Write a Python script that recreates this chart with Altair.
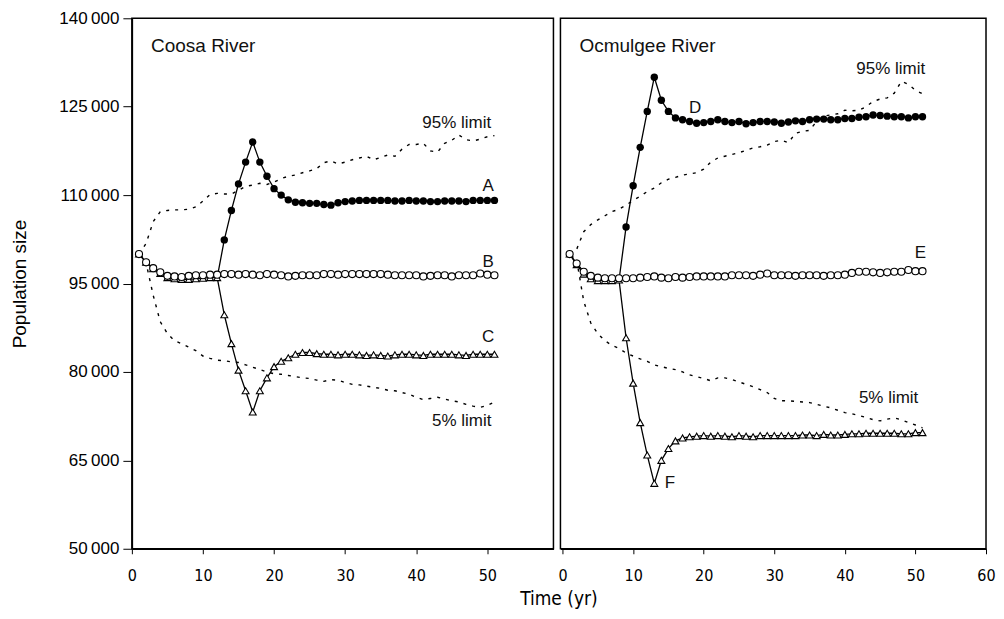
import altair as alt
import pandas as pd

# ---------------- data ----------------
years = list(range(1, 52))

# Coosa River
coosa_A_years = list(range(12, 52))
coosa_A = [96000, 102400, 107400, 111900, 115600, 119000, 115600, 113200, 111100, 110000,
           109200, 108800, 108700, 108600, 108600, 108400, 108300, 108700, 108900, 109000,
           109100, 109100, 109100, 109100, 109100, 109000, 109000, 109100, 109000, 109000,
           108900, 108900, 109000, 109000, 109000, 108900, 109100, 109100, 109100, 109100]
coosa_B = [100000, 98600, 97600, 96900, 96300, 96200, 96100, 96300, 96400, 96400,
           96500, 96500, 96600, 96600, 96500, 96600, 96500, 96400, 96600, 96500,
           96400, 96200, 96300, 96400, 96400, 96400, 96600, 96600, 96500, 96600,
           96600, 96600, 96600, 96600, 96600, 96500, 96400, 96400, 96400, 96400,
           96200, 96300, 96400, 96400, 96200, 96400, 96400, 96400, 96700, 96500,
           96400]
coosa_C = [100000, 98600, 97500, 96700, 96000, 95800, 95700, 95700, 95800, 95900,
           96000, 96000, 89700, 84800, 80300, 76800, 73200, 76800, 79000, 80900,
           81800, 82400, 83000, 83300, 83300, 83100, 83000, 83000, 82900, 83000,
           83000, 82900, 82800, 82900, 82800, 82700, 82900, 83000, 83000, 82900,
           82800, 83000, 83000, 83000, 83000, 82900, 82800, 83000, 83000, 83000,
           83000]
coosa_hi = [100000, 101800, 105500, 107200, 107400, 107500, 107500, 107600, 108000, 109000,
            110100, 110300, 110200, 110200, 110800, 111500, 111700, 112000, 111800, 112200,
            112800, 113200, 113400, 113800, 114100, 114500, 115500, 115800, 115300, 115600,
            116000, 116300, 116600, 116000, 116400, 116800, 116600, 117800, 118600, 118600,
            118800, 117500, 117300, 118800, 119300, 120200, 119400, 119200, 119500, 119900,
            120100]
coosa_lo = [100000, 98500, 93000, 88500, 86500, 85300, 84800, 84200, 83600, 82700,
            82300, 82000, 81900, 81700, 81600, 81200, 80800, 80400, 80000, 79700,
            79600, 79400, 79200, 79000, 78900, 78600, 78400, 78700, 78600, 78200,
            77900, 77800, 77600, 77400, 77200, 76900, 76800, 76500, 76200, 75700,
            75300, 75500, 75700, 75400, 75100, 74900, 74500, 74200, 74000, 74300,
            74900]

# Ocmulgee River
ocm_D_years = list(range(8, 52))
ocm_D = [95600, 104600, 111600, 118100, 124200, 130000, 126100, 124200, 123100, 122800,
         122500, 122200, 122300, 122500, 122800, 122500, 122300, 122500, 122100, 122300,
         122500, 122500, 122400, 122200, 122400, 122600, 122500, 122800, 122900, 122900,
         122800, 122800, 123000, 123000, 123200, 123300, 123600, 123500, 123400, 123300,
         123300, 123100, 123300, 123300]
ocm_E = [100000, 98400, 97000, 96300, 96000, 95900, 95900, 95900, 95900, 95900,
         96000, 96100, 96200, 96000, 95900, 96100, 96000, 96100, 96200, 96200,
         96200, 96200, 96200, 96400, 96400, 96400, 96300, 96500, 96700, 96400,
         96400, 96400, 96300, 96400, 96400, 96400, 96300, 96400, 96400, 96500,
         96800, 97000, 97000, 96900, 96800, 96900, 97000, 97000, 97300, 97100,
         97100]
ocm_F = [100000, 98200, 96600, 95800, 95500, 95500, 95500, 95600, 85800, 78100,
         71400, 65900, 61100, 65000, 67000, 68300, 68800, 69000, 69100, 69200,
         69100, 69200, 69100, 69000, 69200, 69100, 69000, 69200, 69200, 69200,
         69200, 69200, 69200, 69300, 69300, 69200, 69400, 69300, 69300, 69400,
         69500, 69500, 69600, 69600, 69600, 69600, 69600, 69500, 69500, 69700,
         69700]
ocm_hi = [100000, 100800, 103800, 105000, 105800, 106500, 107200, 107600, 108300, 109100,
          109800, 110600, 111200, 112100, 112700, 113000, 113400, 113600, 113800, 114400,
          115600, 116300, 116600, 116900, 117200, 117600, 118000, 118200, 118500, 119100,
          119300, 118900, 120500, 120800, 121000, 122500, 123400, 123600, 123800, 124400,
          124300, 124400, 125000, 125900, 126300, 126500, 127300, 129300, 128800, 127800,
          127200]
ocm_lo = [100000, 99000, 92000, 88300, 86500, 85300, 84500, 84000, 83200, 82700,
          82200, 81800, 81200, 80900, 80600, 80400, 80000, 79500, 79200, 78900,
          78500, 79000, 79000, 78700, 78300, 77900, 77500, 77000, 76500, 75500,
          75100, 75100, 75000, 74900, 74800, 74500, 74200, 73900, 73500, 73100,
          72900, 72600, 72300, 71900, 71700, 72000, 72200, 71900, 71400, 71000,
          70500]

y_ticks = [50000, 65000, 80000, 95000, 110000, 125000, 140000]
x_ticks_left = [0, 10, 20, 30, 40, 50]
x_ticks_right = [0, 10, 20, 30, 40, 50, 60]

# annotation labels: (text, time, value)
coosa_labels = [("95% limit", 45.7, 122200), ("A", 50.1, 111500), ("B", 50.1, 98600),
                ("C", 50.1, 85900), ("5% limit", 46.4, 71700)]
ocm_labels = [("95% limit", 46.5, 131400), ("D", 18.8, 124700), ("E", 50.7, 100200),
              ("5% limit", 46.2, 75600), ("F", 15.2, 61200)]
coosa_title = ("Coosa River", 2.7, 135250)
ocm_title = ("Ocmulgee River", 2.4, 135250)

FONT = "Liberation Sans, Arial, Helvetica, sans-serif"
NARROW = "Liberation Sans Narrow, DejaVu Sans Condensed, Liberation Sans, sans-serif"


def df(ts, vs, name):
    return pd.DataFrame({"t": ts, "v": vs, "s": name})


def panel(x_domain, x_ticks, width, filled, opened, tri, hi, lo, labels, river,
          filled_start, left):
    xs = alt.Scale(domain=x_domain, nice=False, zero=False)
    ys = alt.Scale(domain=[50000, 140000], nice=False, zero=False)
    if left:
        xaxis = alt.Axis(values=x_ticks, title="Time (yr)", titleX=427, titleAlign="center",
                         titleFont=NARROW, titleFontSize=19, titleFontWeight="normal",
                         titlePadding=6)
        yaxis = alt.Axis(values=y_ticks, title="Population size", titleFont=FONT,
                         titleFontSize=19, titleFontWeight="normal", titlePadding=29,
                         labelExpr="replace(format(datum.value, ','), ',', '\u2009')",
                         labelFont=FONT, labelFontSize=17, tickSize=9, labelPadding=4)
        X = alt.X("t:Q", scale=xs, axis=xaxis)
        Y = alt.Y("v:Q", scale=ys, axis=yaxis)
    else:
        xaxis = alt.Axis(values=x_ticks)
        X = alt.X("t:Q", scale=xs, axis=xaxis, title=None)
        Y = alt.Y("v:Q", scale=ys, axis=None)

    limits = pd.concat([df(years, hi, "hi"), df(years, lo, "lo")])
    solid = pd.concat([df(filled[0], filled[1], "f"), df(years, opened, "o"),
                       df(years, tri, "t")])
    fpts = df(filled[0], filled[1], "f")
    fpts = fpts[fpts["t"] >= filled_start]

    dotted = alt.Chart(limits).mark_line(color="black", strokeWidth=1.4,
                                          strokeDash=[3, 6]).encode(X, Y, detail="s:N")
    lines = alt.Chart(solid).mark_line(color="black", strokeWidth=1.3).encode(
        X, Y, detail="s:N")
    opts = alt.Chart(df(years, opened, "o")).mark_point(
        shape="circle", filled=True, fill="white", stroke="black", strokeWidth=1.1,
        size=50, opacity=1).encode(X, Y)
    tpts = alt.Chart(df(years, tri, "t")).mark_point(
        shape="triangle-up", filled=True, fill="white", stroke="black", strokeWidth=1.1,
        size=48, opacity=1).encode(X, Y)
    fp = alt.Chart(fpts).mark_point(shape="circle", filled=True, color="black",
                                    size=55, opacity=1).encode(X, Y)

    lab_df = pd.DataFrame({"label": [l[0] for l in labels], "t": [l[1] for l in labels],
                           "v": [l[2] for l in labels]})
    texts = alt.Chart(lab_df).mark_text(font=FONT, fontSize=17, color="#111",
                                        align="center", baseline="middle").encode(
        X, Y, text="label:N")
    riv_df = pd.DataFrame({"label": [river[0]], "t": [river[1]], "v": [river[2]]})
    rtext = alt.Chart(riv_df).mark_text(font=FONT, fontSize=19, color="#111",
                                        align="left", baseline="middle").encode(
        X, Y, text="label:N")

    return alt.layer(dotted, lines, tpts, opts, fp, texts, rtext).properties(
        width=width, height=531)


left = panel([0, 59.3], x_ticks_left, 422, (coosa_A_years, coosa_A), coosa_B, coosa_C,
             coosa_hi, coosa_lo, coosa_labels, coosa_title, 13, True)
right = panel([-0.3, 60], x_ticks_right, 426, (ocm_D_years, ocm_D), ocm_E, ocm_F,
              ocm_hi, ocm_lo, ocm_labels, ocm_title, 9, False)

chart = alt.hconcat(left, right, spacing=7, bounds="flush").properties(
    padding={"left": 2, "top": 0, "right": 0, "bottom": 0}
).configure_view(stroke="black", strokeWidth=1.5).configure_axis(
    grid=False, domainColor="black", domainWidth=1.5, tickColor="black",
    labelColor="black", titleColor="black", labelFont=NARROW, labelFontSize=16,
    labelFlush=False, tickSize=5, labelPadding=14
)

chart.save("out.html", embed_options={"renderer": "svg", "actions": False})
